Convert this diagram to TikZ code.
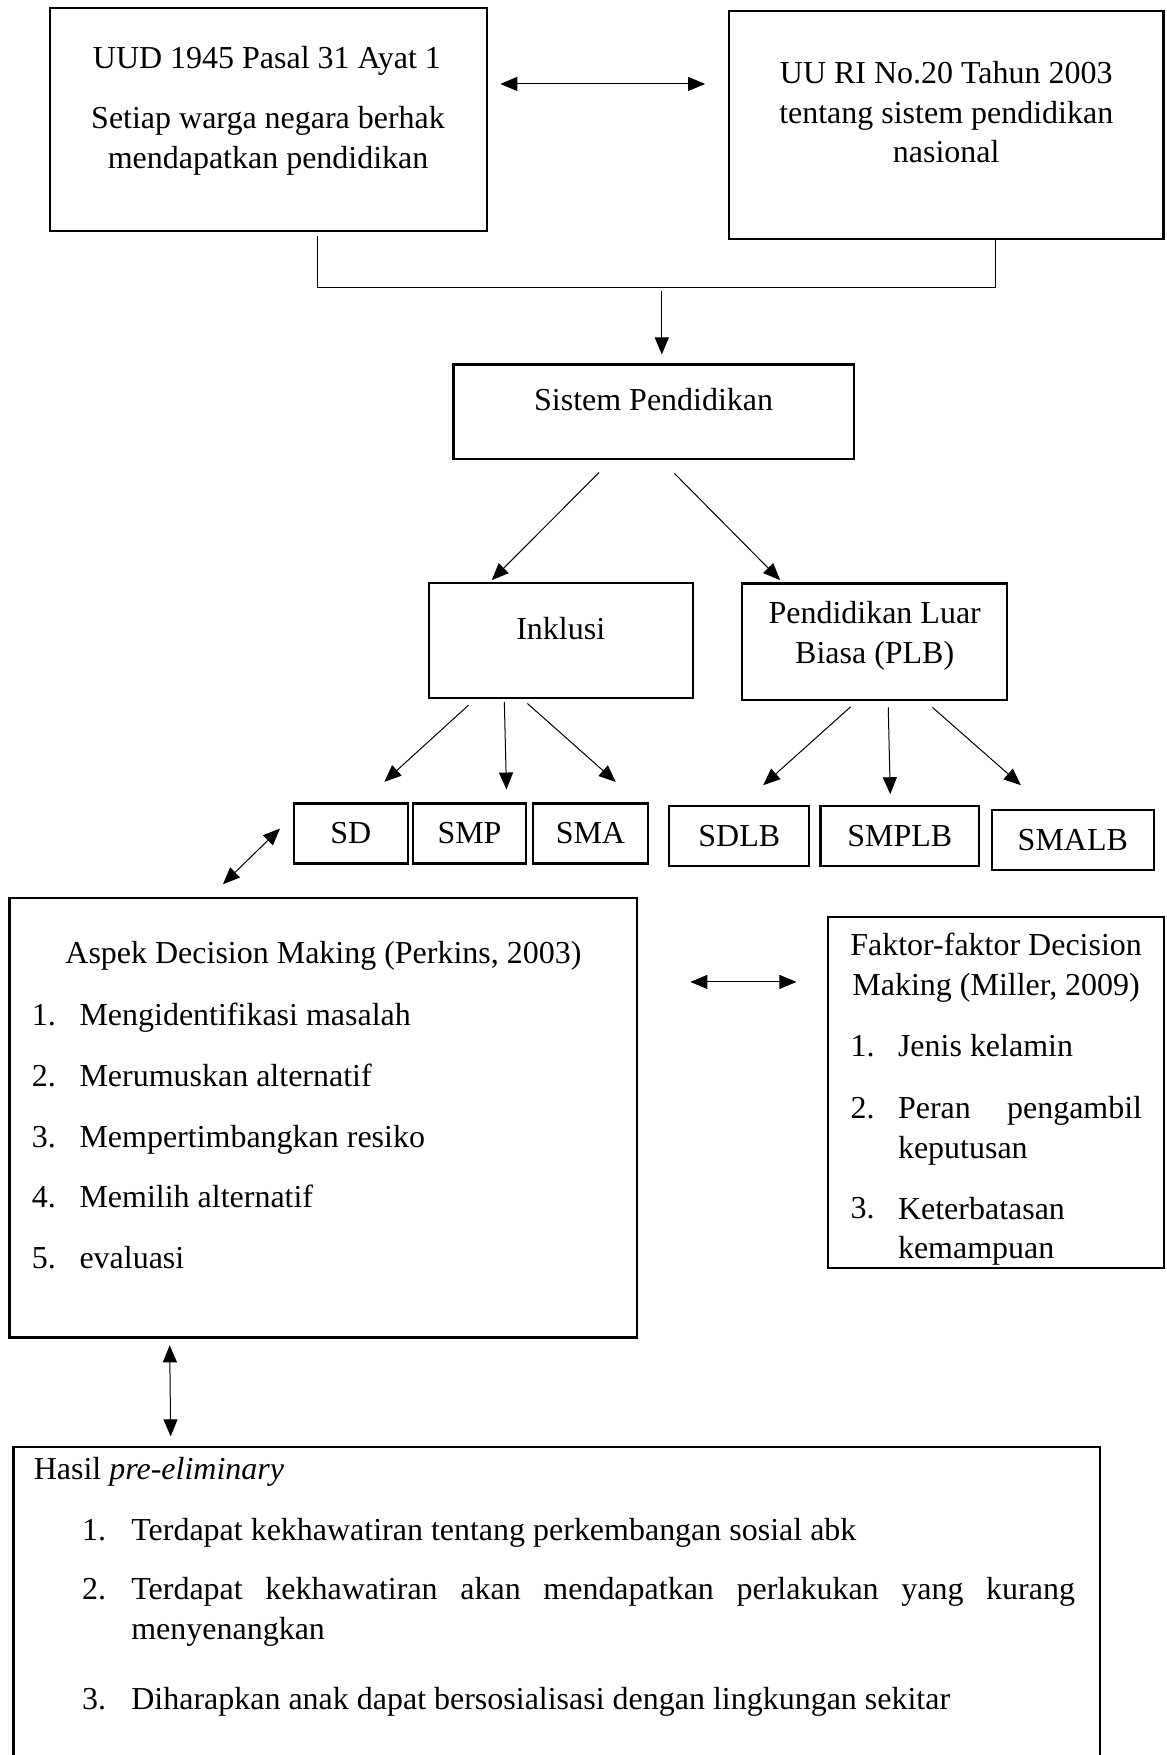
\documentclass[tikz,border=0pt]{standalone}
\usepackage{fontspec}
\setmainfont{Liberation Serif}
\usepackage{tikz}
\usetikzlibrary{arrows.meta}

\begin{document}
\begin{tikzpicture}[x=0.56pt,y=-0.56pt,
  bx/.style={draw,line width=1.1pt,inner sep=0pt,font=\fontsize{16}{19.8}\selectfont},
  tx/.style={inner sep=0pt,font=\fontsize{16}{19.8}\selectfont},
  arr/.style={-{Triangle[length=8.5pt,width=7pt]},line width=0.5pt},
  darr/.style={{Triangle[length=8.5pt,width=7pt]}-{Triangle[length=8.5pt,width=7pt]},line width=0.5pt}]
\path[fill=white,use as bounding box] (0,0) rectangle (1042,1568);
\clip (0,0) rectangle (1042,1568);

% boxes
\node[bx,minimum width=218.8pt,minimum height=111.4pt] (uud) at (239.9,106.9) {};
\node[bx,minimum width=217.5pt,minimum height=114.1pt] (uuri) at (845.3,111.7) {};
\node[bx,minimum width=200.5pt,minimum height=47.2pt] (sis) at (584.2,367.8) {};
\node[bx,minimum width=132.2pt,minimum height=57.6pt] (inkl) at (501,572.1) {};
\node[bx,minimum width=132.7pt,minimum height=58.1pt] (plb) at (781.5,573.2) {};
\node[bx,minimum width=57.2pt,minimum height=30pt] (sd) at (313.4,744.7) {SD};
\node[bx,minimum width=56.6pt,minimum height=30pt] (smp) at (419.5,744.7) {SMP};
\node[bx,minimum width=57.7pt,minimum height=30pt] (sma) at (527.5,744.7) {SMA};
\node[bx,minimum width=70pt,minimum height=30pt] (sdlb) at (660.5,747.1) {SDLB};
\node[bx,minimum width=79.5pt,minimum height=30pt] (smplb) at (804,747.1) {SMPLB};
\node[bx,minimum width=81.2pt,minimum height=29.7pt] (smalb) at (958.5,750.5) {SMALB};
\node[bx,minimum width=314.1pt,minimum height=219.8pt] (aspek) at (289,998.7) {};
\node[bx,minimum width=168pt,minimum height=175.8pt] (faktor) at (890,976) {};
\node[bx,minimum width=543.5pt,minimum height=183.4pt] (hasil) at (497.3,1456.3) {};

% texts (multi-line nodes sit on their last baseline)
\node[tx,anchor=base] (uudt) at (238.5,61.1) {UUD 1945 Pasal 31 Ayat 1};
\node[tx,anchor=base,align=center] (uudh) at (239.5,150.6) {Setiap warga negara berhak\\mendapatkan pendidikan};
\node[tx,anchor=base,align=center] (uurit) at (845.4,145.5) {UU RI No.20 Tahun 2003\\tentang sistem pendidikan\\nasional};
\node[tx,anchor=base] (sist) at (584,366.4) {Sistem Pendidikan};
\node[tx,anchor=base] (inklt) at (501,571.3) {Inklusi};
\node[tx,anchor=base,align=center] (plbt) at (781.5,592.8) {Pendidikan Luar\\Biasa (PLB)};

\node[tx,anchor=base] (aspekt) at (289,860.9) {Aspek Decision Making (Perkins, 2003)};
\foreach \n/\t/\y in {1/Mengidentifikasi masalah/916,2/Merumuskan alternatif/970.4,
  3/Mempertimbangkan resiko/1024.8,4/Memilih alternatif/1079.2,5/evaluasi/1133.6}{
  \node[tx,anchor=base west] (an\n) at (28.2,\y) {\n.};
  \node[tx,anchor=base west] (a\n) at (70.7,\y) {\t};
}

\node[tx,anchor=base,align=center] (faktort) at (890,889.2) {Faktor-faktor Decision\\Making (Miller, 2009)};
\node[tx,anchor=base west] (fn1) at (759.6,944.3) {1.};
\node[tx,anchor=base west] (f1) at (802,944.3) {Jenis kelamin};
\node[tx,anchor=base west] (fn2) at (759.6,999.4) {2.};
\node[tx,anchor=base west,text width=122.1pt,align=justify] (f2) at (802,999.4) {Peran pengambil\linebreak keputusan};
\node[tx,anchor=base west] (fn3) at (759.6,1088.8) {3.};
\node[tx,anchor=base west,align=left] (f3) at (802,1124.5) {Keterbatasan\\kemampuan};

\node[tx,anchor=base west] (hasilt) at (29.9,1322) {Hasil \textit{pre-eliminary}};
\node[tx,anchor=base west] (hn1) at (73.1,1376.2) {1.};
\node[tx,anchor=base west] (h1) at (117,1376.2) {Terdapat kekhawatiran tentang perkembangan sosial abk};
\node[tx,anchor=base west] (hn2) at (73.1,1429.3) {2.};
\node[tx,anchor=base west,text width=472.1pt,align=justify] (h2) at (117,1429.3) {Terdapat kekhawatiran akan mendapatkan perlakukan yang kurang\linebreak menyenangkan};
\node[tx,anchor=base west] (hn3) at (73.1,1527.6) {3.};
\node[tx,anchor=base west] (h3) at (117,1527.6) {Diharapkan anak dapat bersosialisasi dengan lingkungan sekitar};

% connector ends
\coordinate (jl) at (283.5,211);
\coordinate (jm) at (889.2,257);
\coordinate (jr) at (889.2,213.6);
\coordinate (s0) at (591.3,260);
\coordinate (s1) at (591.3,316.7);
\coordinate (u0) at (447,75);
\coordinate (u1) at (630,75);
\coordinate (si0) at (535.3,422.1);
\coordinate (si1) at (439.4,518.3);
\coordinate (sp0) at (602.6,423);
\coordinate (sp1) at (697,518.3);
\coordinate (i10) at (418.6,630);
\coordinate (i11) at (343.4,698.5);
\coordinate (i20) at (450.6,627);
\coordinate (i21) at (452.5,705.4);
\coordinate (i30) at (471.2,628.5);
\coordinate (i31) at (550.2,698.6);
\coordinate (p10) at (760,631.5);
\coordinate (p11) at (681.9,701.5);
\coordinate (p20) at (793.6,632);
\coordinate (p21) at (795.4,709.6);
\coordinate (p30) at (833.1,632);
\coordinate (p31) at (912.1,701.5);
\coordinate (d0) at (250.2,740.2);
\coordinate (d1) at (199.2,790);
\coordinate (m0) at (616.8,877.3);
\coordinate (m1) at (711.6,877.3);
\coordinate (v0) at (151.6,1202);
\coordinate (v1) at (152.5,1283.3);

\draw[line width=0.6pt] (jl) |- (jm) -- (jr);
\foreach \u/\v in {s0/s1,si0/si1,sp0/sp1,i10/i11,i20/i21,i30/i31,p10/p11,p20/p21,p30/p31}{\draw[arr] (\u) -- (\v);}
\foreach \u/\v in {u0/u1,d0/d1,m0/m1,v0/v1}{\draw[darr] (\u) -- (\v);}
\end{tikzpicture}
\end{document}
